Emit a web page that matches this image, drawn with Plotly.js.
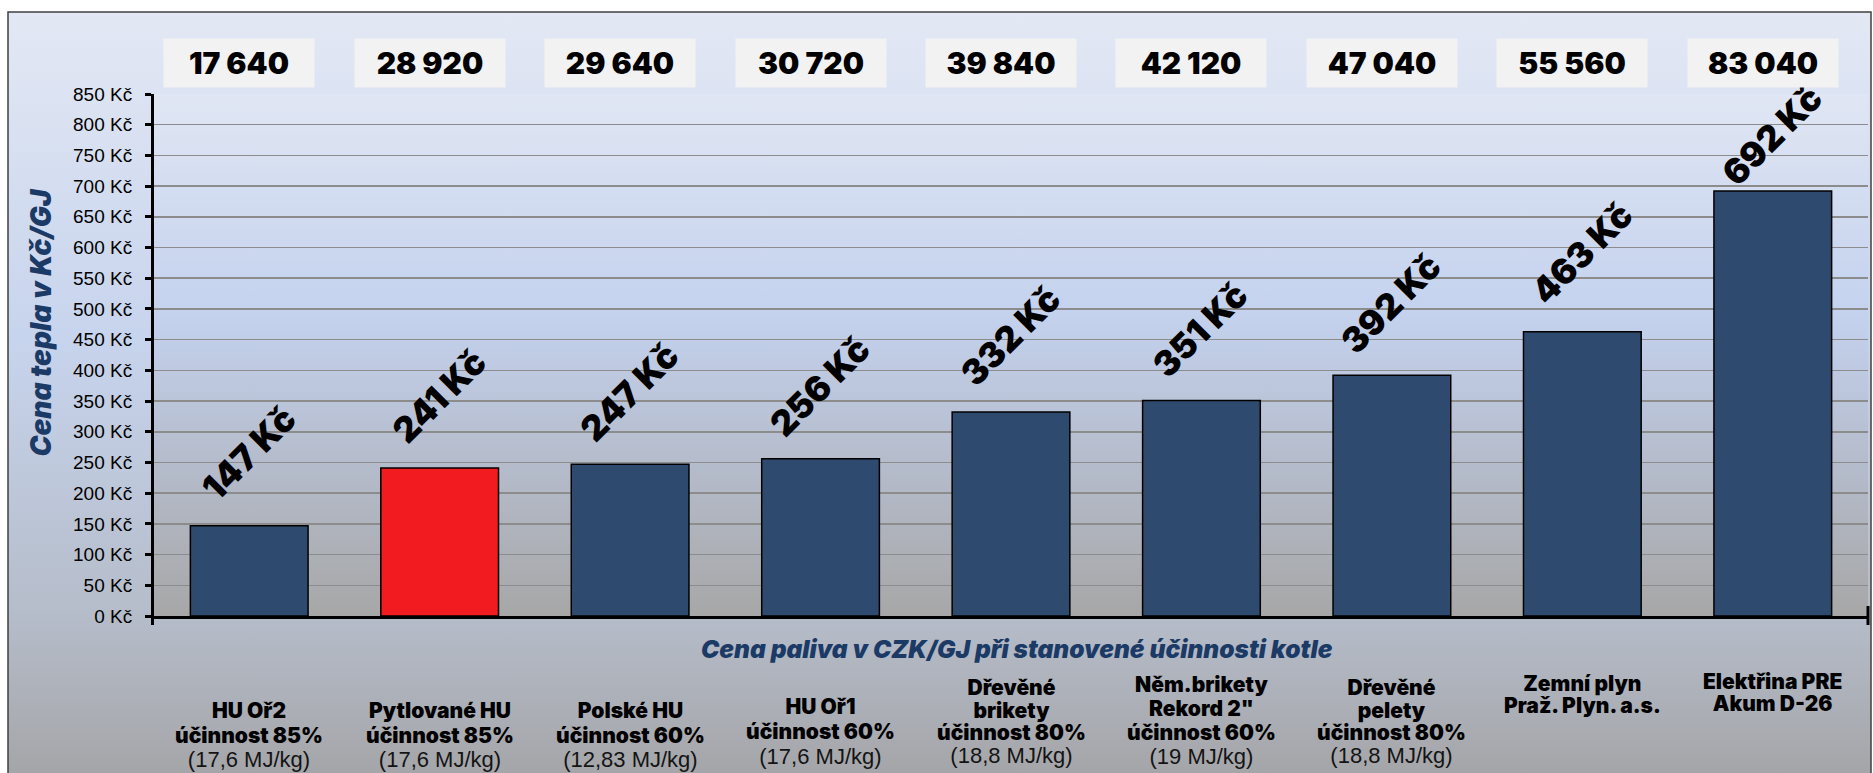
<!DOCTYPE html>
<html>
<head>
<meta charset="utf-8">
<script src="https://cdn.plot.ly/plotly-3.0.1.min.js"></script>
<style>
html, body { margin: 0; padding: 0; background: #ffffff; }
#chart { width: 1873px; height: 773px; }
</style>
</head>
<body>
<div id="chart"></div>
<script>
// ---------------- DATA ----------------
const categories = ["HU Oř2", "Pytlované HU", "Polské HU", "HU Oř1", "Dřevěné brikety",
  "Něm.brikety Rekord 2\"", "Dřevěné pelety", "Zemní plyn", "Elektřina PRE"];
const labelLines = [
  ["HU Oř2", "účinnost 85%"],
  ["Pytlované HU", "účinnost 85%"],
  ["Polské HU", "účinnost 60%"],
  ["HU Oř1", "účinnost 60%"],
  ["Dřevěné", "brikety", "účinnost 80%"],
  ["Něm.brikety", "Rekord 2\"", "účinnost 60%"],
  ["Dřevěné", "pelety", "účinnost 80%"],
  ["Zemní plyn", "Praž. Plyn. a.s."],
  ["Elektřina PRE", "Akum D-26"]
];
const calorificValues = ["(17,6 MJ/kg)", "(17,6 MJ/kg)", "(12,83 MJ/kg)", "(17,6 MJ/kg)",
  "(18,8 MJ/kg)", "(19 MJ/kg)", "(18,8 MJ/kg)", "", ""];
const heatPrice = [147, 241, 247, 256, 332, 351, 392, 463, 692];
const annualCost = [17640, 28920, 29640, 30720, 39840, 42120, 47040, 55560, 83040];
const highlightIndex = 1;
const yAxisTitle = "Cena tepla v Kč/GJ";
const xAxisTitle = "Cena paliva v CZK/GJ při stanovené účinnosti kotle";
const currencySuffix = " Kč";

// ---------------- LAYOUT / STYLE ----------------
const W = 1873, H = 773;
const M = { l: 154, r: 5, t: 94, b: 157 };
const PW = W - M.l - M.r, PH = H - M.t - M.b;
const px2paperX = p => (p - M.l) / PW;
const px2paperY = p => (H - M.b - p) / PH;

const HEAVY = "'Arial Black', Inter, 'DejaVu Sans', sans-serif";
const NARROW = "Liberation Sans Narrow, Arial Narrow, Liberation Sans, sans-serif";
const NAVY = "#1B3A66";
const BAR_BLUE = "#2E4A6E";
const BAR_RED = "#F21B1F";
const CAT_FONT = 21;
const MJ_FONT = 22;
const ASCENT = 0.97;

// per-category label layout (pixel positions / offsets)
const labelLift = [73, 72, 72, 73, 76, 71, 72, 79, 56];
const blockFirstBaseline = [717, 717, 717, 713, 694, 691, 694, 690, 688];
const blockLineStep = [24.5, 24.5, 24.5, 25, 22.7, 24, 22.7, 22, 21.8];

function fmtThousands(n) {
  return String(n).replace(/\B(?=(\d{3})+(?!\d))/g, " ");
}
function svgGradient(stops) {
  const s = stops.map(([o, c]) => `<stop offset='${o}' stop-color='${c}'/>`).join("");
  const svg = `<svg xmlns='http://www.w3.org/2000/svg' width='100' height='100' viewBox='0 0 100 100' preserveAspectRatio='none'><defs><linearGradient id='g' x1='0' y1='0' x2='0' y2='1'>${s}</linearGradient></defs><rect x='0' y='0' width='100' height='100' fill='url(#g)'/></svg>`;
  return "data:image/svg+xml;charset=utf-8," + encodeURIComponent(svg);
}

const barColors = heatPrice.map((_, i) => i === highlightIndex ? BAR_RED : BAR_BLUE);

const trace = {
  type: "bar",
  x: categories,
  y: heatPrice,
  marker: { color: barColors, line: { color: "#000000", width: 1.5 } },
  hoverinfo: "x+y",
  showlegend: false
};

const annotations = [];

// rotated value labels above bars
heatPrice.forEach((v, i) => {
  annotations.push({
    x: categories[i], y: v, xref: "x", yref: "y",
    yshift: labelLift[i], xshift: -1, showarrow: false, textangle: -45,
    xanchor: "center", yanchor: "middle",
    text: v + currencySuffix,
    font: { family: HEAVY, size: 35, color: "#000000", weight: 900 }
  });
});

// annual cost boxes on top
annualCost.forEach((v, i) => {
  annotations.push({
    x: categories[i], xref: "x", xshift: -10,
    y: px2paperY(63), yref: "paper",
    xanchor: "center", yanchor: "middle",
    width: 150, height: 48, bgcolor: "#F2F2F2", borderpad: 0,
    showarrow: false, align: "center", valign: "middle",
    text: fmtThousands(v),
    font: { family: HEAVY, size: 30, color: "#000000", weight: 900 }
  });
});

// category labels below axis (one text block per category)
labelLines.forEach((lines, i) => {
  const parts = lines.map(t => `<span style="font-size:${CAT_FONT}px">${t}</span>`);
  if (calorificValues[i]) {
    parts.push(`<span style="font-family:${NARROW};font-weight:normal;font-size:${MJ_FONT}px;color:#141414">${calorificValues[i]}</span>`);
  }
  annotations.push({
    x: categories[i], xref: "x",
    y: px2paperY(blockFirstBaseline[i] - ASCENT * CAT_FONT), yref: "paper",
    xanchor: "center", yanchor: "top", showarrow: false, borderpad: 0,
    align: "center",
    text: parts.join("<br>"),
    font: { family: HEAVY, size: blockLineStep[i] / 1.3, color: "#000000", weight: 900 }
  });
});

// axis titles
annotations.push({
  xref: "paper", yref: "paper", x: px2paperX(40.5), y: px2paperY(323),
  xanchor: "center", yanchor: "middle", showarrow: false, textangle: -90,
  text: yAxisTitle,
  font: { family: HEAVY, size: 28, color: NAVY, weight: 900, style: "italic" }
});
annotations.push({
  xref: "paper", yref: "paper", x: px2paperX(1017), y: px2paperY(649),
  xanchor: "center", yanchor: "middle", showarrow: false,
  text: xAxisTitle,
  font: { family: HEAVY, size: 24.5, color: NAVY, weight: 900, style: "italic" }
});

const frameX0 = 8, frameX1 = 1871, frameY0 = 12, frameY1 = 790;

const layout = {
  width: W, height: H,
  margin: M,
  paper_bgcolor: "#ffffff",
  plot_bgcolor: "rgba(0,0,0,0)",
  bargap: 0.382,
  showlegend: false,
  xaxis: {
    type: "category", range: [-0.5, categories.length - 0.5],
    showticklabels: false, ticks: "", showgrid: false, zeroline: false,
    showline: true, linecolor: "#000000", linewidth: 3, fixedrange: true
  },
  yaxis: {
    range: [0, 850], tick0: 0, dtick: 50, ticksuffix: currencySuffix,
    showgrid: true, gridcolor: "#8C8C8C", gridwidth: 1.5,
    zeroline: false, showline: true, linecolor: "#000000", linewidth: 3,
    ticks: "outside", ticklen: 6, tickwidth: 3, tickcolor: "#000000",
    ticklabelstandoff: 9,
    tickfont: { family: "'Liberation Sans', Arial, sans-serif", size: 19, color: "#000000" },
    fixedrange: true
  },
  images: [
    {
      source: svgGradient([[0, "#E3E8F4"], [0.42, "#C7D4ED"], [0.78, "#B5BCC9"], [1, "#A3A3A5"]]),
      xref: "paper", yref: "paper",
      x: px2paperX(frameX0), y: px2paperY(frameY0),
      sizex: (frameX1 - frameX0) / PW, sizey: (frameY1 - frameY0) / PH,
      xanchor: "left", yanchor: "top", sizing: "stretch", layer: "below"
    },
    {
      source: svgGradient([[0, "#E0E6F3"], [0.42, "#C4D2EE"], [0.72, "#B4BBCA"], [1, "#A7A7A7"]]),
      xref: "paper", yref: "paper", x: 0, y: 1, sizex: 1, sizey: 1,
      xanchor: "left", yanchor: "top", sizing: "stretch", layer: "below"
    }
  ],
  shapes: [
    {
      type: "rect", xref: "paper", yref: "paper", layer: "below",
      x0: px2paperX(frameX0), x1: px2paperX(frameX1),
      y0: px2paperY(frameY0), y1: px2paperY(frameY1),
      line: { color: "#404040", width: 1.5 }, fillcolor: "rgba(0,0,0,0)"
    },
    {
      type: "line", xref: "paper", yref: "paper",
      x0: 1, x1: 1, y0: px2paperY(606), y1: px2paperY(625),
      line: { color: "#000000", width: 3 }
    },
    {
      type: "line", xref: "paper", yref: "paper",
      x0: px2paperX(M.l - 1.5), x1: px2paperX(M.l - 1.5), y0: 0, y1: px2paperY(625),
      line: { color: "#000000", width: 3 }
    }
  ],
  annotations: annotations
};

Plotly.newPlot("chart", [trace], layout, { displayModeBar: false, staticPlot: true });
</script>
</body>
</html>
